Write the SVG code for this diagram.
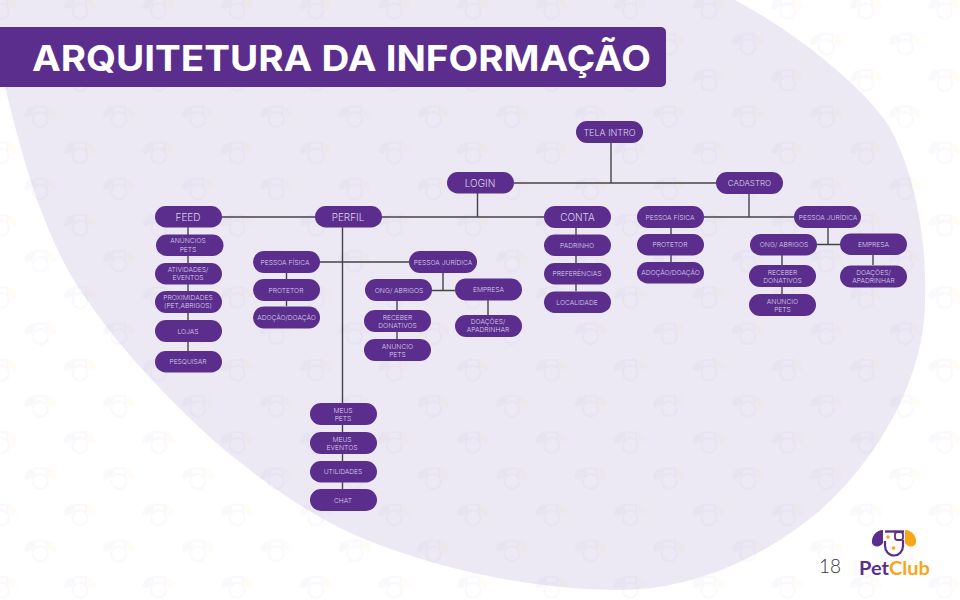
<svg xmlns="http://www.w3.org/2000/svg" width="960" height="600" viewBox="0 0 960 600">
<style>
.n rect{fill:#5b2e8e}
.n text{font-family:"Inter","Liberation Sans",sans-serif;font-weight:300;fill:#dcd2ea;text-anchor:middle;font-size:6.700px}
.n text.b{font-size:10px}
#connectors path{fill:none;stroke:#454349;stroke-width:1.400}
</style>
<defs>
<filter id="soft" x="-20%" y="-20%" width="140%" height="140%"><feGaussianBlur stdDeviation=".5"/></filter>
<g id="dog" filter="url(#soft)">
<path d="M-6-10H6V-2M-6-10V-2" fill="none" stroke="#5b2e8e" stroke-width="2"/>
<circle cx="0" cy="3" r="7.500" fill="none" stroke="#5b2e8e" stroke-width="2"/>
<path d="M-7-10c-6 0-9 5-9 10 2 2 8 0 9-3z" fill="#5b2e8e"/>
<path d="M7-10c6 0 9 5 9 10-2 2-8 0-9-3z" fill="#f9a51a"/>
</g>
<pattern id="wm" width="78.600" height="72.400" patternUnits="userSpaceOnUse" patternTransform="translate(-18.600,-12)">
<use href="#dog" x="20" y="20" opacity=".035"/>
<use href="#dog" x="59" y="56" opacity=".035"/>
</pattern>
</defs>
<rect width="960" height="600" fill="#fff"/>
<path d="M-5 40C5 90 20 150 37 200C50 235 65 270 87 300C125 355 170 400 213 440C250 472 295 505 340 528C410 562 520 590 620 590C690 590 760 560 817 513C870 468 925 385 925 300C927 240 915 170 887 123C860 85 800 35 735 0H-5Z" fill="#ece9f5"/>
<rect width="960" height="600" fill="url(#wm)"/>

<g id="connectors">
<path d="M611 143V183M514 183H716M477.500 193V217M222 217H544M342.500 227V489M320 262H409"/>
<path d="M188 227V351M286.500 273V306M443 273V290.500M432 290.500H455M397 300V339M488 300V315M576 228V291"/>
<path d="M749 194V217M704 217H794M671 228V262M828 228V244.500M817 244.500H840M782 255V294M873 255V265"/>
</g>

<g id="title"><path d="M0 27H661a5 5 0 0 1 5 5V82a5 5 0 0 1-5 5H0Z" fill="#5b2e8e"/>
<text x="32" y="71" font-family="Inter,'Liberation Sans',sans-serif" font-weight="700" font-size="36" fill="#fff" textLength="619" lengthAdjust="spacingAndGlyphs">ARQUITETURA DA INFORMAÇÃO</text></g>

<g id="tela-intro" class="n"><rect x="576" y="121" width="67" height="22" rx="11"/><text class="b" x="609.500" y="135.500" style="font-size:9px">TELA INTRO</text></g>
<g id="login" class="n"><rect x="447" y="172" width="67" height="21.500" rx="10.700"/><text class="b" x="480" y="186.500">LOGIN</text></g>
<g id="cadastro" class="n"><rect x="716" y="172" width="67" height="22" rx="11"/><text x="749.500" y="186" style="font-size:8px">CADASTRO</text></g>
<g id="feed" class="n"><rect x="155" y="206" width="67" height="21.500" rx="10.700"/><text class="b" x="188" y="220.500">FEED</text></g>
<g id="perfil" class="n"><rect x="315" y="206" width="67" height="21.500" rx="10.700"/><text class="b" x="348" y="220.500">PERFIL</text></g>
<g id="conta" class="n"><rect x="544" y="206" width="67" height="22" rx="11"/><text class="b" x="577.500" y="220.500">CONTA</text></g>

<g id="feed-anuncios" class="n"><rect x="156" y="234.500" width="67.500" height="21.500" rx="10.700"/><text x="188" y="243">ANÚNCIOS</text><text x="188" y="251.500">PETS</text></g>
<g id="feed-atividades" class="n"><rect x="155" y="263" width="67" height="21.500" rx="10.700"/><text x="188" y="272">ATIVIDADES/</text><text x="188" y="280">EVENTOS</text></g>
<g id="feed-proximidades" class="n"><rect x="155" y="291" width="67" height="22" rx="11"/><text x="188" y="300">PROXIMIDADES</text><text x="188" y="308">(PET,ABRIGOS)</text></g>
<g id="feed-lojas" class="n"><rect x="155" y="320" width="67" height="22" rx="11"/><text x="188" y="333.500">LOJAS</text></g>
<g id="feed-pesquisar" class="n"><rect x="155" y="351" width="67" height="21.500" rx="10.700"/><text x="188" y="364">PESQUISAR</text></g>

<g id="p-pf" class="n"><rect x="253" y="251" width="67" height="22" rx="11"/><text x="285" y="264.500">PESSOA FÍSICA</text></g>
<g id="p-protetor" class="n"><rect x="253" y="279" width="67" height="22" rx="11"/><text x="286" y="292.500">PROTETOR</text></g>
<g id="p-adocao" class="n"><rect x="253" y="306.500" width="67" height="22" rx="11"/><text x="286.500" y="320">ADOÇÃO/DOAÇÃO</text></g>
<g id="p-pj" class="n"><rect x="409" y="251" width="68" height="22" rx="11"/><text x="443" y="264.500">PESSOA JURÍDICA</text></g>
<g id="p-ong" class="n"><rect x="365" y="279" width="67" height="22" rx="11"/><text x="399" y="292.500">ONG/ ABRIGOS</text></g>
<g id="p-empresa" class="n"><rect x="455" y="278.500" width="67" height="22" rx="11"/><text x="488.500" y="292">EMPRESA</text></g>
<g id="p-receber" class="n"><rect x="364" y="310" width="67" height="22" rx="11"/><text x="397.500" y="319.500">RECEBER</text><text x="397.500" y="327.500">DONATIVOS</text></g>
<g id="p-anuncio" class="n"><rect x="364" y="339" width="67" height="22" rx="11"/><text x="397.500" y="348.500">ANUNCIO</text><text x="397.500" y="356.500">PETS</text></g>
<g id="p-doacoes" class="n"><rect x="455" y="315" width="67" height="22" rx="11"/><text x="488" y="323.500">DOAÇÕES/</text><text x="488" y="331.500">APADRINHAR</text></g>

<g id="conta-padrinho" class="n"><rect x="544" y="234.500" width="67" height="21.500" rx="10.700"/><text x="577" y="247.500">PADRINHO</text></g>
<g id="conta-preferencias" class="n"><rect x="544" y="263" width="67" height="21.500" rx="10.700"/><text x="577" y="275.500">PREFERÊNCIAS</text></g>
<g id="conta-localidade" class="n"><rect x="544" y="291.500" width="67" height="21.500" rx="10.700"/><text x="577" y="304.500">LOCALIDADE</text></g>

<g id="c-pf" class="n"><rect x="637" y="206" width="67" height="22" rx="11"/><text x="670" y="219.500">PESSOA FÍSICA</text></g>
<g id="c-protetor" class="n"><rect x="637" y="234" width="67" height="21.500" rx="10.700"/><text x="670" y="247">PROTETOR</text></g>
<g id="c-adocao" class="n"><rect x="637" y="262" width="67" height="21.500" rx="10.700"/><text x="670.500" y="275">ADOÇÃO/DOAÇÃO</text></g>
<g id="c-pj" class="n"><rect x="794" y="206" width="67" height="22" rx="11"/><text x="828" y="219.500">PESSOA JURÍDICA</text></g>
<g id="c-ong" class="n"><rect x="750" y="234" width="67" height="21.500" rx="10.700"/><text x="784" y="247">ONG/ ABRIGOS</text></g>
<g id="c-empresa" class="n"><rect x="840" y="233.500" width="67" height="21.500" rx="10.700"/><text x="873.500" y="247">EMPRESA</text></g>
<g id="c-receber" class="n"><rect x="749" y="265" width="67" height="22" rx="11"/><text x="782.500" y="274.500">RECEBER</text><text x="782.500" y="282.500">DONATIVOS</text></g>
<g id="c-anuncio" class="n"><rect x="749" y="294" width="67" height="22" rx="11"/><text x="782.500" y="303.500">ANUNCIO</text><text x="782.500" y="311.500">PETS</text></g>
<g id="c-doacoes" class="n"><rect x="840" y="265.500" width="67" height="22" rx="11"/><text x="873.500" y="274.500">DOAÇÕES/</text><text x="873.500" y="283">APADRINHAR</text></g>

<g id="meus-pets" class="n"><rect x="310" y="403" width="67" height="22" rx="11"/><text x="343" y="413">MEUS</text><text x="343" y="421">PETS</text></g>
<g id="meus-eventos" class="n"><rect x="310" y="432" width="67" height="22" rx="11"/><text x="342" y="441.500">MEUS</text><text x="342" y="449.500">EVENTOS</text></g>
<g id="utilidades" class="n"><rect x="310" y="461" width="67" height="21.500" rx="10.700"/><text x="343" y="474">UTILIDADES</text></g>
<g id="chat" class="n"><rect x="310" y="489" width="67" height="22" rx="11"/><text x="343" y="502.500">CHAT</text></g>

<text x="819" y="573" font-family="Lato,'Liberation Sans',sans-serif" font-weight="300" font-size="19" fill="#333">18</text>
<g id="logo">
<path d="M883 530c-7 0-12 7-11 13 1 4 8 5 11 0z" fill="#5b2e8e"/>
<path d="M905 530c7 0 12 7 11 13-1 4-8 5-11 0z" fill="#f9a51a"/>
<path d="M885 531.500h19" fill="none" stroke="#5b2e8e" stroke-width="2.400"/>
<path d="M885 546a9 9.500 0 0 0 18 0V540M885 546v-5" fill="none" stroke="#5b2e8e" stroke-width="2.200"/>
<rect x="895" y="532" width="8" height="8" rx="2.500" fill="none" stroke="#5b2e8e" stroke-width="1.800"/>
<circle cx="888" cy="537" r="1.800" fill="#f9a51a"/><circle cx="893.500" cy="548" r="1.800" fill="#f9a51a"/>
<text x="859" y="575" font-family="Lato,'Liberation Sans',sans-serif" font-weight="700" font-size="18.500" textLength="71" lengthAdjust="spacingAndGlyphs"><tspan fill="#5b2e8e">Pet</tspan><tspan fill="#f9a51a">Club</tspan></text>
</g>
</svg>
